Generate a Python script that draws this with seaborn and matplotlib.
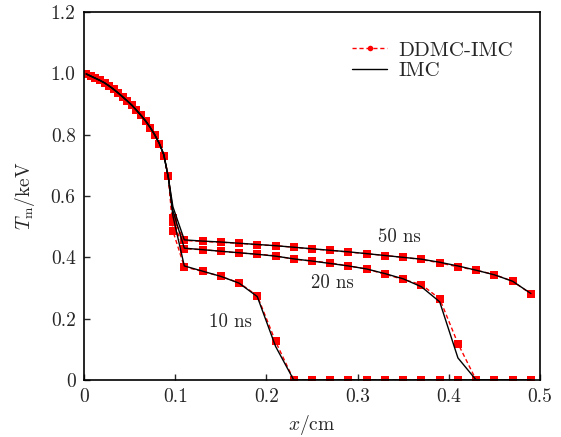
import numpy as np
import pandas as pd
import matplotlib
matplotlib.use("Agg")
import matplotlib.pyplot as plt
from matplotlib.lines import Line2D
import seaborn as sns

# ---------------- data ----------------
front_x = [0.0025, 0.0075, 0.0125, 0.0175, 0.0225, 0.0275, 0.0325, 0.0375, 0.0425,
           0.0475, 0.0525, 0.0575, 0.0625, 0.0675, 0.0725, 0.0775, 0.0825, 0.0875, 0.0925]
ddmc_front = [0.998, 0.990, 0.984, 0.977, 0.968, 0.958, 0.948, 0.936, 0.923,
              0.910, 0.897, 0.881, 0.864, 0.845, 0.823, 0.800, 0.770, 0.730, 0.665]
imc_front = [0.998, 0.991, 0.984, 0.977, 0.969, 0.959, 0.948, 0.936, 0.923,
             0.910, 0.896, 0.880, 0.863, 0.845, 0.824, 0.800, 0.772, 0.735, 0.660]
edge_x = [0.0975]
tail_x = [0.11, 0.13, 0.15, 0.17, 0.19, 0.21, 0.23, 0.25, 0.27, 0.29,
          0.31, 0.33, 0.35, 0.37, 0.39, 0.41, 0.43, 0.45, 0.47, 0.49]

times = ["10 ns", "20 ns", "50 ns"]

ddmc_edge = {"10 ns": [0.486], "20 ns": [0.516], "50 ns": [0.528]}
imc_edge = {"10 ns": [0.535], "20 ns": [0.552], "50 ns": [0.565]}

ddmc_tail = {
    "10 ns": [0.369, 0.354, 0.338, 0.317, 0.275, 0.126, 0, 0, 0, 0,
              0, 0, 0, 0, 0, 0, 0, 0, 0, 0],
    "20 ns": [0.428, 0.425, 0.420, 0.414, 0.411, 0.405, 0.394, 0.388, 0.382, 0.372,
              0.362, 0.345, 0.328, 0.311, 0.265, 0.119, 0, 0, 0, 0],
    "50 ns": [0.455, 0.452, 0.449, 0.446, 0.441, 0.438, 0.433, 0.427, 0.423, 0.417,
              0.412, 0.406, 0.400, 0.393, 0.382, 0.369, 0.358, 0.344, 0.322, 0.281],
}
imc_tail = {
    "10 ns": [0.372, 0.355, 0.338, 0.316, 0.272, 0.110, 0, 0, 0, 0,
              0, 0, 0, 0, 0, 0, 0, 0, 0, 0],
    "20 ns": [0.430, 0.425, 0.420, 0.415, 0.410, 0.404, 0.395, 0.388, 0.380, 0.372,
              0.362, 0.347, 0.330, 0.304, 0.255, 0.072, 0, 0, 0, 0],
    "50 ns": [0.457, 0.453, 0.450, 0.446, 0.442, 0.438, 0.433, 0.428, 0.423, 0.418,
              0.412, 0.406, 0.400, 0.394, 0.384, 0.372, 0.358, 0.343, 0.322, 0.282],
}

label_pos = {"10 ns": (0.161, 0.19), "20 ns": (0.272, 0.317), "50 ns": (0.346, 0.467)}

x_ticks = [0, 0.1, 0.2, 0.3, 0.4, 0.5]
x_ticklabels = ["0", "0.1", "0.2", "0.3", "0.4", "0.5"]
y_ticks = [0, 0.2, 0.4, 0.6, 0.8, 1.0, 1.2]
y_ticklabels = ["0", "0.2", "0.4", "0.6", "0.8", "1.0", "1.2"]

# ---------------- build tables ----------------
def build(front, edge, tail):
    rows = []
    for t in times:
        xs = front_x + edge_x + tail_x
        ys = front + edge[t] + tail[t]
        for xv, yv in zip(xs, ys):
            rows.append({"x": xv, "T": yv, "time": t})
    return pd.DataFrame(rows)

df_ddmc = build(ddmc_front, ddmc_edge, ddmc_tail)
df_imc = build(imc_front, imc_edge, imc_tail)

# ---------------- style ----------------
sns.set_style("ticks")
plt.rcParams["font.family"] = ["cmr10", "DejaVu Serif"]
plt.rcParams["mathtext.fontset"] = "cm"
plt.rcParams["axes.formatter.use_mathtext"] = True
plt.rcParams["axes.unicode_minus"] = False

fig = plt.figure(figsize=(5.61, 4.37), dpi=100)
ax = fig.add_axes([0.1497, 0.1304, 0.8129, 0.8421])

sns.lineplot(data=df_ddmc, x="x", y="T", units="time", estimator=None, sort=False,
             color="red", linestyle=(0, (3, 2)), linewidth=1.0, marker="s",
             markersize=5.5, markeredgewidth=0, markerfacecolor="red",
             ax=ax, legend=False)
sns.lineplot(data=df_imc, x="x", y="T", units="time", estimator=None, sort=False,
             color="black", linewidth=1.0, ax=ax, legend=False)

for t in times:
    ax.text(label_pos[t][0], label_pos[t][1], t, fontsize=13.5, ha="center", va="center")

ax.set_xlim(0, 0.5)
ax.set_ylim(0, 1.2)
ax.set_xticks(x_ticks)
ax.set_xticklabels(x_ticklabels)
ax.set_yticks(y_ticks)
ax.set_yticklabels(y_ticklabels)
ax.tick_params(direction="in", length=4, width=1, labelsize=14, pad=6)
for s in ax.spines.values():
    s.set_linewidth(1.2)
    s.set_color("black")

ax.set_xlabel(r"$x$/cm", fontsize=14, labelpad=5)
ax.set_ylabel(r"$T_\mathrm{m}$/keV", fontsize=14, labelpad=10)

handles = [
    Line2D([], [], color="red", linestyle=(0, (3, 2)), linewidth=1.0, marker="o",
           markersize=4, markeredgewidth=0),
    Line2D([], [], color="black", linewidth=1.0),
]
ax.legend(handles, ["DDMC-IMC", "IMC"], loc="upper left", bbox_to_anchor=(0.56, 0.955),
          frameon=False, fontsize=15, handlelength=1.7, labelspacing=0.1,
          handletextpad=0.55, borderaxespad=0.2)

fig.savefig("out.png", dpi=100)
